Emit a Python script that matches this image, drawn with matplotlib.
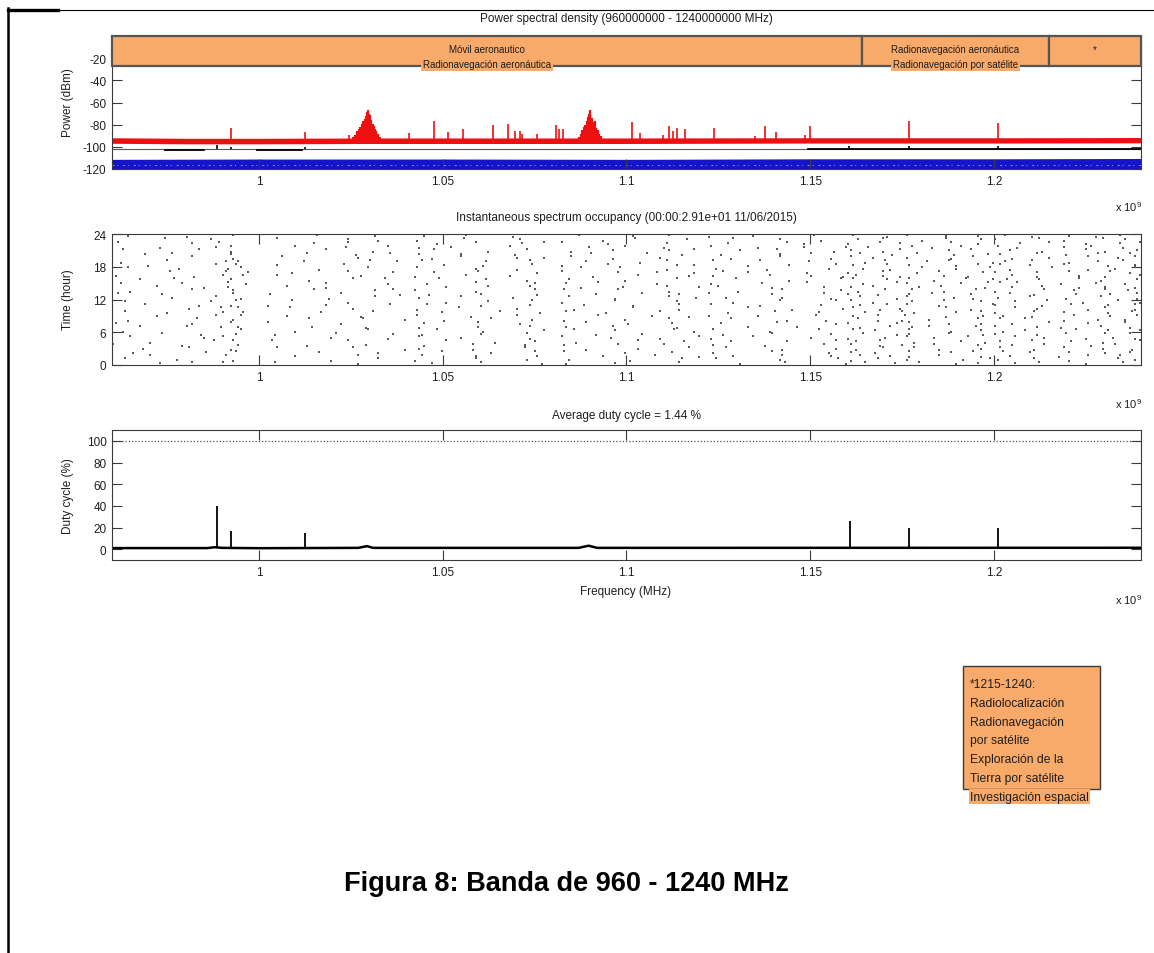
import numpy as np
import matplotlib
matplotlib.use("Agg")
import matplotlib.pyplot as plt
from matplotlib.patches import Rectangle
from matplotlib.lines import Line2D

plt.rcParams["font.family"] = ["Liberation Sans", "DejaVu Sans"]
plt.rcParams["mathtext.fontset"] = "custom"
plt.rcParams["mathtext.rm"] = "Liberation Sans"
plt.rcParams["mathtext.it"] = "Liberation Sans"
plt.rcParams["axes.unicode_minus"] = False

# ------------------------------------------------------------------ data
# frequency axis ticks (Hz shown as x 10^9)
tick_mhz = [1000, 1050, 1100, 1150, 1200]
tick_labels = ["1", "1.05", "1.1", "1.15", "1.2"]

# allocation bands across the top of the PSD
band_edges_mhz = [960, 1164, 1215, 1240]
band_line1 = ["Móvil aeronautico", "Radionavegación aeronáutica", "*"]
band_line2 = ["Radionavegación aeronáutica", "Radionavegación por satélite", ""]

# max-hold (red) trace: noise floor envelope
red_floor_mhz = [960, 980, 1000, 1030, 1100, 1150, 1200, 1240]
red_floor_hi = [-91.8, -92.3, -92.3, -92.0, -92.0, -91.8, -91.8, -91.6]
red_floor_lo = [-96.8, -97.3, -97.3, -97.0, -97.0, -96.6, -96.6, -96.4]
# isolated carriers
red_spike_mhz = [992.5, 1012.6, 1024.5, 1040.7, 1047.6, 1051.5, 1055.6, 1063.6,
                 1067.7, 1069.7, 1071.0, 1071.7, 1075.7, 1080.7, 1081.7, 1082.8,
                 1101.6, 1103.6, 1110.0, 1111.6, 1112.7, 1113.8, 1115.8, 1123.8,
                 1134.9, 1137.6, 1140.8, 1148.5, 1150.0, 1177.0, 1201.0]
red_spike_dbm = [-83.0, -86.6, -89.0, -87.3, -76.6, -87.0, -83.9, -80.0,
                 -79.4, -85.6, -85.6, -88.0, -88.0, -80.0, -83.5, -84.3,
                 -77.5, -87.7, -89.0, -81.0, -85.5, -82.8, -84.0, -82.8,
                 -90.0, -81.0, -86.5, -89.0, -80.9, -76.6, -78.2]
# interrogator / transponder clusters at 1030 and 1090 MHz
c1030_mhz = [1025.6, 1026.2, 1026.8, 1027.2, 1027.6, 1027.9, 1028.2, 1028.5, 1028.8,
             1029.1, 1029.4, 1029.6, 1029.8, 1030.0, 1030.3, 1030.6, 1030.9, 1031.2,
             1031.5, 1031.9, 1032.3, 1032.8]
c1030_dbm = [-91, -89, -86, -84, -82, -79, -77, -80, -75, -72, -69, -67, -70, -73,
             -71, -76, -79, -81, -84, -86, -88, -91]
c1090_mhz = [1087.2, 1087.6, 1088.0, 1088.4, 1088.7, 1089.0, 1089.3, 1089.6, 1089.8,
             1090.0, 1090.2, 1090.5, 1090.8, 1091.1, 1091.4, 1091.8, 1092.2, 1092.6,
             1093.1]
c1090_dbm = [-91, -88, -85, -82, -80, -83, -77, -73, -70, -67, -71, -74, -78, -80,
             -77, -83, -85, -88, -90]

# average (black) trace
black_ref_dbm = -101.8
black_seg_start_mhz = [974.4, 999.5, 1149.5]
black_seg_end_mhz = [985.0, 1011.7, 1240.0]
black_seg_dbm = [-103.0, -103.0, -101.6]
black_spike_mhz = [988.6, 992.5, 1012.5, 1160.6, 1177.0, 1201.0]
black_spike_dbm = [-98.0, -100.0, -100.0, -98.8, -98.8, -98.8]

# minimum (blue) trace envelope
blue_top_mhz = [960, 1000, 1050, 1100, 1150, 1200, 1240]
blue_top_dbm = [-111.3, -111.0, -111.0, -111.3, -110.8, -110.8, -110.5]

# occupancy map: rows of 40 min (top = 24 h), 2 MHz columns grouped by 20,
# digits 1-9 give the position inside the cell, '.' = free
occ_rows = [
    "..4.......7.....2...|.......3.......6...|..5.....1.....8.....|...2......6....3....|.7.....4.......2....|3....8..1....5...6..|.2...7....4..9...1..",
    ".......1.....5......|..2.........4...7..|.8.....3.......5....|......9....1......4.|....2.....6.....8...|.5..3.....7..2....4.|4.....1..8....3..6..",
    "3.........6...2.....|.......5....1.......|....7....2.....6..3.|.1.....8.......5....|...6.......3..7.....|7...2..4......1..9..|...5...2....8....4.3",
    "......8.......4.1...|....3......6.....2..|.9....4.......1.....|....6....3.....7....|.2.....9......4....6|..6.....3..8...2....|2..7.....5...1...8..",
    ".2.........3....7...|.........1.....8....|...3.......7....2...|..8.....4......6...1|.....5....2.......7.|5...9..1.....6..3...|..4...8.....2..7...5",
    "....5...1.......4...|......2......7...3..|.6.....5......9.....|.....1......3....8..|..9.......6....1....|.3....7..2....8....4|6....3...9....1...2.",
    "..........3.....8...|...1.........5......|...8...2.......4..6.|..2.....7.....5.....|....7.....3......9..|2..5....4.....7..1..|..8....5....3...6..1",
    ".7.....2.......5.4..|......4........1..6.|..1.......6.....3...|....5......9...2....|.3......1.....6.....|..8..1....6..3.....9|.5...1....7...4..2..",
    "....9.........1.3...|..5........2........|.....4....8......1..|.7.....2........6..4|......8.....4.....2.|6....2..5.....9..3..|3...6....2.....8...4",
    "..1......4.....6.2..|........7.....3.....|.2.......5.....7....|...3.....1.....8....|..4......7.......5..|..4..9....1...6....2|..7....3....9...5..1",
    ".......3.......2..5.|....8.......1.....4.|...6.....3.......9..|.1......6.....4....7|...1..5.......8.....|7...3....8..2.....5.|4....6....1....3..8.",
    "5..........7...1.3..|..2..........6......|.7......1.....4.....|.....8.....2......5.|.6.......2.....4...8|.1..6..7.....4..8...|..2..9.....5...7...3",
    "...6....2.......4...|......9.....3....1..|....2.....6.....8...|..4......9......3...|....3.......7......1|3....5..2..9....1..6|.6....4....2..8....5",
    ".4.......5.....3..7.|.........4.......8..|..9......2.......5..|.6....1.......7.....|.8......5.....2.....|..7...3.4......5...1|3..1.....7...6...9..",
    "......1.....8..6....|...3.....7..........|.....5.....1....3...|...9.....5.....2...6|..2......9......6...|5..2.....6..3.....9.|..5...2....8...4...7",
    "..8.......3.....5...|.......2.......6..1.|.4.......8.......2..|.2......3......9....|.....7.....1.......4|.8...1..3....7...2..|7.....3...6....1..4.",
    "3.....6.........2...|.5.........1.......7|...7......4......9..|.....6......1....4..|.1.......6......3...|4...7...5..2....6...|..1..8.....4...6...2",
    "........4.....1..8..|.........8.....3....|.6.....2......5.....|..1.....8......3...5|...5.......4.....9..|.3....9.1.....5..7..|5...3....9....2....8",
    ".6...........5..3...|....2.......7.......|.....8.....4.....1..|.7......2.......6...|....8.....3.......2.|2..8....6....1....4.|..6....1....7...3..9",
    "....2......9....7...|.7.......4.......3..|..3.......7.....6...|....4.....9......1..|.2......7.......5...|.6...2..1...8......3|4.....8...2....5...1",
    "..........5...3..1..|....1.......6.......|.8.....1.......4....|..9.......3......7..|......2.....8......5|3...8..4.....2..9...|..3..6......9..1...7",
    ".3.....8.......4.6..|........5......2....|....6.......3.....7.|.3.....7......2.....|...9......1.....4...|..5....2.7....6...1.|7....2...5.....8..3.",
    "......4.......1..2..|...6.........9......|.2......9......1....|......1......5....8.|.4.....6.......3....|6...1..3.....8....5.|.4...7....3....6...2",
    "..7........2....5...|......3.......1....6|.....7.....2.....4..|.8.......6.....3....|....1......9.....7..|.2..7..8...4.....3..|3...1....8....4..6..",
    "5.........9.....1...|.1.........7........|..5......3.....8....|....2.....7.....4...|..6.......2.......8.|4.....6.2....9....7.|..8....2....6....3..5",
    "...3......1...6..4..|.......4......8.....|.9.......6......3...|.6......1.......9...|......5......4......|.9...3..6..1.....2..|1....6...7....2...8.",
    ".8...............2..|....9.........3.....|....1.....8.......6.|..3.....5.......2..7|.3.......8......1...|3..6....2.....7...4.|.7..4......1...5...6",
    "......3.....7...6...|..7.......2.......4.|..7.......4.....2...|.....9......4.......|...7.....3.......6..|..1...9.5....3....8.|4....9...3.....1..2.",
    "..2.........5..1....|.........6.......8..|.3.....5........9...|.1.....6......8....3|.8.....1.......4....|7....4..1..6....2...|..3...6.....8...4..7",
    ".....7.......3..2...|.3..........1.......|.....2......7....5..|...7.......2.....6..|....4......6......2.|.4..2....7.....5..9.|6....1....5...9....3",
    "1........8.......4..|......8.......5.....|..8......1......4...|.5......3......1....|.6......9.......3...|2...8..5...3.....6..|..5...3......7..2...8",
    "....4.....2.....7...|..2.........3......9|.6.......7......1...|....8......5......2.|...2.......7......5.|.7..3....1..8.....4.|3....8...2....6...9..",
    "..9.........6...3...|........4.......7...|....3......8.....2..|.2.......9......4...|.9.......3.......8..|5..9....2.....4..1..|.1..6.....4....7..5.",
    ".....1.........2....|....6........2......|..1......5.......6..|......6......3.....9|....5......1.....6..|.3...6..8...2.....7.|..4.....9...3....1..6",
    ".3......6.......8...|.........9......1...|.7.......2......5...|..4.......8......2..|..1.......6.......3.|8...1...4......6...2|5....2....7.....3..4.",
    "......5...3....1....|..1..........8......|...5......1.......8.|.9......5........1..|.....8.....2.......9|..2...5..3....9..6..|..6...1.....8....2..3",
]

# duty cycle
duty_base_mhz = [960, 986, 988, 990, 1000, 1027, 1029.4, 1031, 1087, 1089.7, 1092, 1240]
duty_base_pct = [1.0, 1.0, 1.8, 1.2, 0.9, 1.2, 2.8, 1.2, 1.2, 3.2, 1.2, 1.3]
duty_spike_mhz = [988.6, 992.5, 1012.5, 1160.9, 1177.0, 1201.0]
duty_spike_pct = [39.4, 17.2, 14.8, 26.0, 20.0, 20.0]
avg_duty = 1.44

titles = ["Power spectral density (960000000 - 1240000000 MHz)",
          "Instantaneous spectrum occupancy (00:00:2.91e+01 11/06/2015)",
          "Average duty cycle = %.2f %%" % avg_duty]
ylabels = ["Power (dBm)", "Time (hour)", "Duty cycle (%)"]

note_lines = ["*1215-1240:", "Radiolocalización", "Radionavegación", "por satélite",
              "Exploración de la", "Tierra por satélite", "Investigación espacial"]
caption = "Figura 8: Banda de 960 - 1240 MHz"

# ------------------------------------------------------------------ figure
W, H = 1154, 954
fig = plt.figure(figsize=(W / 100, H / 100), dpi=100)
ORANGE = "#F8AA6A"
TXT = "#1e1e1e"
EDGE = "#3a3a3a"
FS = 8.5


def fx(x):
    return x / W


def fy(y):
    return 1 - y / H


def axes_px(x0, y0, x1, y1):
    return fig.add_axes([fx(x0), fy(y1), (x1 - x0) / W, (y1 - y0) / H])


def hz(vals):
    return np.asarray(vals, dtype=float) * 1e6


def style(ax):
    ax.set_xlim(960e6, 1240e6)
    ax.set_xticks(hz(tick_mhz))
    ax.set_xticklabels(tick_labels)
    ax.tick_params(direction="in", length=7, width=0.8, color=EDGE,
                   top=True, right=True, labelsize=FS, labelcolor=TXT, pad=4)
    for s in ax.spines.values():
        s.set_color(EDGE)
        s.set_linewidth(0.8)


# document frame lines
fig.add_artist(Line2D([fx(8), fx(8)], [fy(9), fy(954)], color="black", lw=1.8))
fig.add_artist(Line2D([fx(8), fx(1154)], [fy(10.5), fy(10.5)], color="black", lw=0.8))
fig.add_artist(Line2D([fx(8), fx(58)], [fy(10.5), fy(10.5)], color="black", lw=2.4))

# ---------------- panel 1: power spectral density
ax1 = axes_px(112, 37, 1141, 170)
style(ax1)
ax1.set_ylim(-120, 0)
ax1.set_yticks([-120, -100, -80, -60, -40, -20])

ax1.fill_between(hz(blue_top_mhz), -120, blue_top_dbm, color="#1414C8", lw=0, zorder=1)
ax1.axhline(-116.8, color="white", lw=0.7, alpha=0.55, ls=(0, (2, 3, 1, 5)), zorder=1.1)

ax1.axhline(black_ref_dbm, color="#555555", lw=0.8, zorder=1.2)
for a, b, v in zip(black_seg_start_mhz, black_seg_end_mhz, black_seg_dbm):
    ax1.plot(hz([a, b]), [v, v], color="black", lw=1.3, zorder=1.3)
ax1.vlines(hz(black_spike_mhz), black_ref_dbm, black_spike_dbm, color="black", lw=1.2, zorder=1.3)

ax1.fill_between(hz(red_floor_mhz), red_floor_lo, red_floor_hi, color="#EE1010", lw=0, zorder=2)
ax1.vlines(hz(red_spike_mhz), -94.5, red_spike_dbm, color="#EE1010", lw=1.2, zorder=2)
ax1.vlines(hz(c1030_mhz), -94.5, c1030_dbm, color="#EE1010", lw=1.6, zorder=2)
ax1.vlines(hz(c1090_mhz), -94.5, c1090_dbm, color="#EE1010", lw=1.6, zorder=2)

band_bottom = -27.5
for i in range(len(band_edges_mhz) - 1):
    f0, f1 = band_edges_mhz[i], band_edges_mhz[i + 1]
    ax1.add_patch(Rectangle((f0 * 1e6, band_bottom), (f1 - f0) * 1e6, -band_bottom,
                            fc=ORANGE, ec="#555555", lw=1.6, zorder=3, clip_on=False))
    xc = (f0 + f1) / 2 * 1e6
    ax1.text(xc, -12.0, band_line1[i], ha="center", va="center", fontsize=7,
             color=TXT, zorder=4)
    if band_line2[i]:
        ax1.text(xc, -25.5, band_line2[i], ha="center", va="center", fontsize=7,
                 color=TXT, zorder=4,
                 bbox=dict(boxstyle="square,pad=0.2", fc=ORANGE, ec="none"))

# ---------------- panel 2: occupancy
ax2 = axes_px(112, 235, 1141, 366)
style(ax2)
ax2.set_ylim(0, 24)
ax2.set_yticks([0, 6, 12, 18, 24])
row_h = 24 / len(occ_rows)
occ_f, occ_t = [], []
for r, row in enumerate(occ_rows):
    for g, grp in enumerate(row.split("|")):
        for j, ch in enumerate(grp[:20]):
            if ch.isdigit() and ch != "0":
                k = int(ch) - 1
                col = g * 20 + j
                occ_f.append(960 + (col + (k % 3 + 0.5) / 3) * 2.0)
                occ_t.append(24 - (r + (k // 3 + 0.5) / 3) * row_h)
ax2.scatter(hz(occ_f), occ_t, s=1.1, marker="s", c="#5a5a5a", linewidths=0, zorder=2)

# ---------------- panel 3: duty cycle
ax3 = axes_px(112, 431, 1141, 561)
style(ax3)
ax3.set_ylim(-10, 110)
ax3.set_yticks([0, 20, 40, 60, 80, 100])
ax3.axhline(100, color="#555555", lw=0.9, ls=(0, (1, 1.6)), zorder=1)
ax3.plot(hz(duty_base_mhz), duty_base_pct, color="black", lw=1.8, zorder=2)
ax3.vlines(hz(duty_spike_mhz), 1.0, duty_spike_pct, color="black", lw=1.3, zorder=2)

# titles, labels, exponents
title_y = [19, 218, 416]
label_y = [103, 300, 496]
exp_y = [207, 404, 600]
for t, ty_, yl, ly, ey in zip(titles, title_y, ylabels, label_y, exp_y):
    fig.text(fx(626), fy(ty_), t, ha="center", va="center", fontsize=FS, color=TXT)
    fig.text(fx(68), fy(ly), yl, ha="center", va="center", rotation=90, fontsize=FS, color=TXT)
    fig.text(fx(1142), fy(ey), r"x 10$^{9}$", ha="right", va="center", fontsize=FS - 0.5, color=TXT)
fig.text(fx(626), fy(592), "Frequency (MHz)", ha="center", va="center", fontsize=FS, color=TXT)

# allocation note for the starred band
fig.add_artist(Rectangle((fx(963), fy(790)), (1100 - 963) / W, (790 - 667) / H,
                         transform=fig.transFigure, fc=ORANGE, ec=EDGE, lw=1.0))
for i, line in enumerate(note_lines):
    kw = {}
    if i == len(note_lines) - 1:
        kw["bbox"] = dict(boxstyle="square,pad=0.12", fc=ORANGE, ec="none")
    fig.text(fx(970), fy(688 + 18.8 * i), line, ha="left", va="baseline",
             fontsize=8.7, color=TXT, **kw)

fig.text(fx(566), fy(884), caption, ha="center", va="center", fontsize=19.5,
         fontweight="bold", color="black")

fig.savefig("out.png", dpi=100)
